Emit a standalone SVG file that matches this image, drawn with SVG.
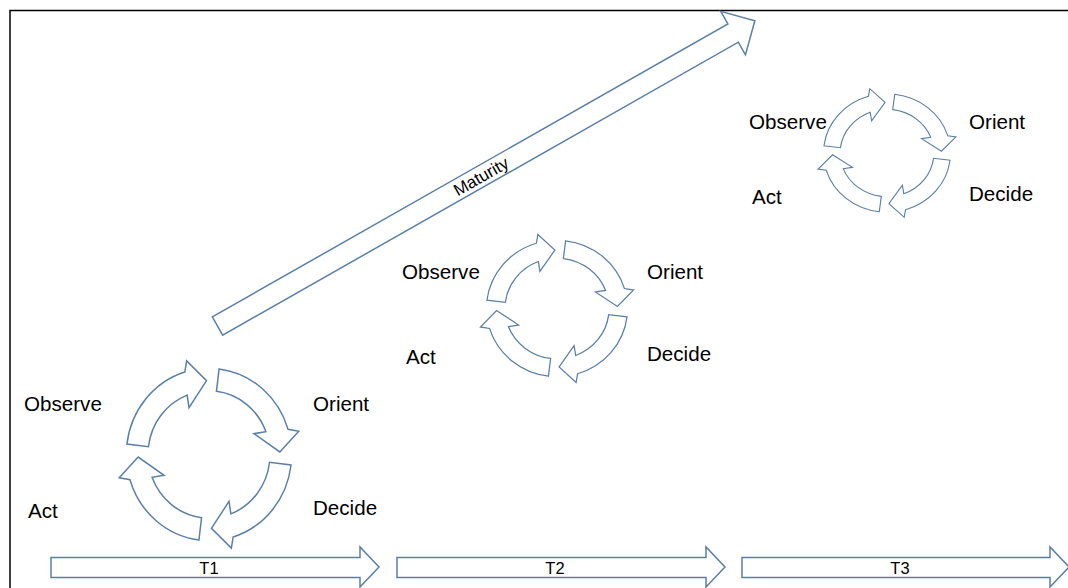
<svg xmlns="http://www.w3.org/2000/svg" width="1068" height="588" viewBox="0 0 1068 588">
<style>
.sh{fill:#ffffff;stroke:#5a7fa8;stroke-width:1.5;stroke-linejoin:miter}
.ns{vector-effect:non-scaling-stroke}
.lbl{font-family:"Liberation Sans",Arial,sans-serif;font-size:20.6px;fill:#000}
.tl{font-family:"Liberation Sans",Arial,sans-serif;font-size:16.5px;fill:#000;text-anchor:middle}
</style>
<defs>
<path id="ca" d="M -83.37,-10.24 A 84 84 0 0 1 -24.56,-80.33 L -22.74,-91.21 L -2.51,-71.96 L -20.34,-45.68 L -22.22,-57.88 A 62 62 0 0 0 -61.54,-7.56 Z"/>
<g id="cycle">
<use href="#ca" class="sh ns"/>
<use href="#ca" class="sh ns" transform="rotate(90)"/>
<use href="#ca" class="sh ns" transform="rotate(180)"/>
<use href="#ca" class="sh ns" transform="rotate(270)"/>
</g>
</defs>
<rect id="frame" x="10" y="10.5" width="1070" height="600" fill="none" stroke="#000" stroke-width="1.5"/>
<g id="connectors">
<g id="maturity" transform="translate(217.5,326) rotate(-29.6)">
<path class="sh" d="M 0,-10.5 L 593,-10.5 L 593,-25 L 618,0 L 593,25 L 593,10.5 L 0,10.5 Z"/>
<text class="tl" x="303" y="6" style="font-size:17px">Maturity</text>
</g>
<g id="t1">
<path class="sh" d="M 51,557.5 L 360,557.5 L 360,547 L 379,567 L 360,587 L 360,577.5 L 51,577.5 Z"/>
<text class="tl" x="209" y="573.5">T1</text>
</g>
<g id="t2">
<path class="sh" d="M 397,557.5 L 706,557.5 L 706,547 L 725,567 L 706,587 L 706,577.5 L 397,577.5 Z"/>
<text class="tl" x="555" y="574">T2</text>
</g>
<g id="t3">
<path class="sh" d="M 742,557.5 L 1050,557.5 L 1050,547 L 1069,567 L 1050,587 L 1050,577.5 L 742,577.5 Z"/>
<text class="tl" x="900" y="573.5">T3</text>
</g>
</g>
<g id="cycle1">
<use href="#cycle" transform="translate(209,454.5) scale(0.984,1.026)"/>
<text class="lbl" x="24" y="411">Observe</text>
<text class="lbl" x="313" y="411">Orient</text>
<text class="lbl" x="28" y="518">Act</text>
<text class="lbl" x="313" y="515">Decide</text>
</g>
<g id="cycle2">
<use href="#cycle" transform="translate(557,308.5) scale(0.84,0.812)"/>
<text class="lbl" x="402" y="279">Observe</text>
<text class="lbl" x="647" y="279">Orient</text>
<text class="lbl" x="406" y="364">Act</text>
<text class="lbl" x="647" y="361">Decide</text>
</g>
<g id="cycle3">
<use href="#cycle" transform="translate(887,153) scale(0.756,0.705)"/>
<text class="lbl" x="749" y="129">Observe</text>
<text class="lbl" x="969" y="129">Orient</text>
<text class="lbl" x="752" y="204">Act</text>
<text class="lbl" x="969" y="201">Decide</text>
</g>
</svg>
